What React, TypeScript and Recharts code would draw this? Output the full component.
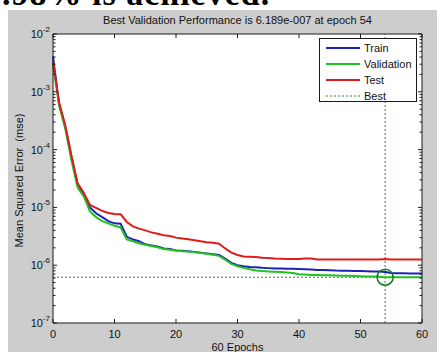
import React from "react";
import {
  CartesianGrid,
  ComposedChart,
  Label,
  Legend,
  Line,
  ReferenceDot,
  ReferenceLine,
  XAxis,
  YAxis,
} from "recharts";

// Training record (mse per epoch).
const epochs = [
  0, 1, 2, 3, 4, 5, 6, 7, 8, 9, 10, 11, 12, 13, 14, 15, 16, 17, 18, 19, 20,
  21, 22, 23, 24, 25, 26, 27, 28, 29, 30, 31, 32, 33, 34, 35, 36, 37, 38, 39,
  40, 41, 42, 43, 44, 45, 46, 47, 48, 49, 50, 51, 52, 53, 54, 55, 56, 57, 58,
  59, 60,
];

const train = [
  4.1e-3, 6.0e-4, 2.5e-4, 7.5e-5, 2.5e-5, 1.7e-5, 1.0e-5, 7.9e-6, 6.8e-6, 5.8e-6,
  5.3e-6, 5.2e-6, 3.1e-6, 2.8e-6, 2.6e-6, 2.3e-6, 2.2e-6, 2.1e-6, 1.95e-6, 1.9e-6,
  1.8e-6, 1.78e-6, 1.75e-6, 1.7e-6, 1.65e-6, 1.6e-6, 1.55e-6, 1.5e-6, 1.3e-6, 1.1e-6,
  1.0e-6, 9.6e-7, 9.3e-7, 9.2e-7, 9.0e-7, 8.9e-7, 8.8e-7, 8.75e-7, 8.7e-7, 8.65e-7,
  8.6e-7, 8.5e-7, 8.4e-7, 8.3e-7, 8.25e-7, 8.2e-7, 8.1e-7, 8.05e-7, 8.0e-7, 7.95e-7,
  7.9e-7, 7.85e-7, 7.8e-7, 7.8e-7, 7.6e-7, 7.3e-7, 7.25e-7, 7.25e-7, 7.2e-7, 7.2e-7,
  7.2e-7,
];

const validation = [
  3.0e-3, 5.7e-4, 2.3e-4, 6.5e-5, 2.2e-5, 1.55e-5, 8.5e-6, 6.8e-6, 5.8e-6, 5.3e-6,
  4.8e-6, 4.5e-6, 2.8e-6, 2.6e-6, 2.4e-6, 2.25e-6, 2.15e-6, 2.05e-6, 1.9e-6, 1.85e-6,
  1.8e-6, 1.75e-6, 1.72e-6, 1.68e-6, 1.62e-6, 1.58e-6, 1.52e-6, 1.45e-6, 1.25e-6, 1.05e-6,
  9.6e-7, 9.0e-7, 8.5e-7, 8.1e-7, 7.9e-7, 7.8e-7, 7.7e-7, 7.6e-7, 7.5e-7, 7.3e-7,
  7.0e-7, 6.9e-7, 6.8e-7, 6.75e-7, 6.7e-7, 6.7e-7, 6.65e-7, 6.6e-7, 6.55e-7, 6.5e-7,
  6.45e-7, 6.4e-7, 6.35e-7, 6.3e-7, 6.189e-7, 6.2e-7, 6.2e-7, 6.2e-7, 6.2e-7, 6.2e-7,
  6.2e-7,
];

const test = [
  3.3e-3, 6.5e-4, 2.6e-4, 7.8e-5, 2.6e-5, 1.8e-5, 1.1e-5, 9.8e-6, 8.7e-6, 8.0e-6,
  7.7e-6, 7.6e-6, 5.6e-6, 4.7e-6, 4.3e-6, 4.0e-6, 3.7e-6, 3.5e-6, 3.3e-6, 3.2e-6,
  3.0e-6, 2.9e-6, 2.8e-6, 2.7e-6, 2.6e-6, 2.5e-6, 2.45e-6, 2.35e-6, 1.95e-6, 1.65e-6,
  1.5e-6, 1.42e-6, 1.4e-6, 1.38e-6, 1.35e-6, 1.33e-6, 1.3e-6, 1.29e-6, 1.28e-6, 1.28e-6,
  1.28e-6, 1.3e-6, 1.3e-6, 1.25e-6, 1.25e-6, 1.25e-6, 1.25e-6, 1.25e-6, 1.25e-6, 1.25e-6,
  1.25e-6, 1.25e-6, 1.25e-6, 1.26e-6, 1.28e-6, 1.25e-6, 1.25e-6, 1.25e-6, 1.25e-6, 1.26e-6,
  1.26e-6,
];

const bestEpoch = 54;
const bestValue = 6.189e-7;

const seriesNames = ["Train", "Validation", "Test"];
const xTicks = [0, 10, 20, 30, 40, 50, 60];
const decades = [1e-7, 1e-6, 1e-5, 1e-4, 1e-3, 1e-2];
const minorSteps = [2, 3, 4, 5, 6, 7, 8, 9];

const TITLE = "Best Validation Performance is 6.189e-007 at epoch 54";
const X_LABEL = "60 Epochs";
const Y_LABEL = "Mean Squared Error  (mse)";

const TRAIN = "#1f22b4";
const VALID = "#1fc21f";
const TEST = "#e01b1b";
const BEST = "#3f7f3f";
const CIRCLE = "#137a26";
const AXIS = "#1a1a1a";
const FIGURE = "#cdcdcd";
const FONT = "'Liberation Sans', Arial, sans-serif";

const rows = epochs.map((epoch, i) => ({
  epoch,
  train: train[i],
  validation: validation[i],
  test: test[i],
}));

// log axis: a tick at every decade plus 2..9 minor ticks in between
const yTicks = [
  ...decades,
  ...decades.slice(0, -1).flatMap((d) => minorSteps.map((m) => d * m)),
].sort((a, b) => a - b);

function isDecade(v: number) {
  const l = Math.log10(v);
  return Math.abs(l - Math.round(l)) < 1e-6;
}

// MATLAB draws its ticks inside the box, so every axis gets its own tick
function LeftTick({ x, y, payload }: any) {
  const major = isDecade(payload.value);
  return (
    <g>
      <line x1={x} x2={x + (major ? 4 : 2.5)} y1={y} y2={y} stroke={AXIS} />
      {major && (
        <text
          x={x - 3}
          y={y}
          dy={4}
          textAnchor="end"
          fontSize={11}
          fontFamily={FONT}
          fill="#111"
        >
          10
          <tspan dy={-6} fontSize={8}>
            {Math.round(Math.log10(payload.value))}
          </tspan>
        </text>
      )}
    </g>
  );
}

function RightTick({ x, y, payload }: any) {
  const major = isDecade(payload.value);
  return (
    <line x1={x} x2={x - (major ? 4 : 2.5)} y1={y} y2={y} stroke={AXIS} />
  );
}

function BottomTick({ x, y, payload }: any) {
  return (
    <g>
      <line x1={x} x2={x} y1={y} y2={y - 4} stroke={AXIS} />
      <text
        x={x}
        y={y + 15}
        textAnchor="middle"
        fontSize={11}
        fontFamily={FONT}
        fill="#111"
      >
        {payload.value}
      </text>
    </g>
  );
}

function TopTick({ x, y }: any) {
  return <line x1={x} x2={x} y1={y} y2={y + 4} stroke={AXIS} />;
}

function LegendBox({ payload }: any) {
  // recharts sorts the payload by name; keep MATLAB's plotting order instead
  const series = seriesNames
    .map((name) => (payload ?? []).find((p: any) => p.value === name))
    .filter(Boolean)
    .map((p: any) => ({ name: p.value, color: p.color, dash: undefined }));
  const items = [...series, { name: "Best", color: BEST, dash: "2 2" }];
  return (
    <div
      style={{
        width: 98,
        height: 64,
        boxSizing: "border-box",
        background: "#fff",
        border: `1px solid ${AXIS}`,
        paddingTop: 1,
        fontFamily: FONT,
        fontSize: 11,
        color: "#111",
      }}
    >
      {items.map((item: any) => (
        <div
          key={item.name}
          style={{ display: "flex", alignItems: "center", height: 16 }}
        >
          <svg width={41} height={16} style={{ display: "block" }}>
            <line
              x1={6}
              x2={40}
              y1={8}
              y2={8}
              stroke={item.color}
              strokeWidth={item.dash ? 1 : 2}
              strokeDasharray={item.dash}
            />
          </svg>
          <span style={{ marginLeft: 3 }}>{item.name}</span>
        </div>
      ))}
    </div>
  );
}

export default function App() {
  return (
    <div
      style={{
        position: "absolute",
        left: 0,
        top: 0,
        width: 437,
        height: 352,
        overflow: "hidden",
        background: "#fff",
      }}
    >
      {/* tail of the paper's sentence above the figure, cut off by the crop */}
      <div
        style={{
          position: "absolute",
          left: -34,
          top: -23,
          fontFamily: "'Liberation Serif', 'Times New Roman', serif",
          fontWeight: "bold",
          fontSize: 34,
          lineHeight: "34px",
          letterSpacing: 1,
          whiteSpace: "nowrap",
          color: "#000",
        }}
      >
        99.98% is achieved.
      </div>
      <div
        style={{
          position: "absolute",
          left: 8,
          top: 10,
          width: 429,
          height: 342,
          background: FIGURE,
        }}
      />
      <div style={{ position: "absolute", left: 0, top: 0 }}>
        <ComposedChart
          width={437}
          height={352}
          data={rows}
          margin={{ top: 0, right: 0, bottom: 0, left: 0 }}
        >
          <CartesianGrid horizontal={false} vertical={false} fill="#fff" />
          <XAxis
            dataKey="epoch"
            type="number"
            domain={[0, 60]}
            ticks={xTicks}
            interval={0}
            height={29}
            tickSize={0}
            tickMargin={0}
            tickLine={false}
            axisLine={{ stroke: AXIS }}
            tick={<BottomTick />}
          >
            <Label
              content={({ viewBox }: any) => (
                <text
                  x={viewBox.x + viewBox.width / 2}
                  y={351}
                  textAnchor="middle"
                  fontSize={11}
                  fontFamily={FONT}
                  fill="#111"
                >
                  {X_LABEL}
                </text>
              )}
            />
          </XAxis>
          <XAxis
            xAxisId="top"
            orientation="top"
            type="number"
            domain={[0, 60]}
            allowDataOverflow
            ticks={xTicks}
            interval={0}
            height={34}
            tickSize={0}
            tickMargin={0}
            tickLine={false}
            axisLine={{ stroke: AXIS }}
            tick={<TopTick />}
          >
            <Label
              content={({ viewBox }: any) => (
                <text
                  x={viewBox.x + viewBox.width / 2}
                  y={24}
                  textAnchor="middle"
                  fontSize={11}
                  fontFamily={FONT}
                  fill="#111"
                >
                  {TITLE}
                </text>
              )}
            />
          </XAxis>
          <YAxis
            scale="log"
            type="number"
            domain={[1e-7, 1e-2]}
            allowDataOverflow
            ticks={yTicks}
            interval={0}
            width={53}
            tickSize={0}
            tickMargin={0}
            tickLine={false}
            axisLine={{ stroke: AXIS }}
            tick={<LeftTick />}
          >
            <Label
              content={({ viewBox }: any) => {
                const cx = 23;
                const cy = viewBox.y + viewBox.height / 2 + 2;
                return (
                  <text
                    x={cx}
                    y={cy}
                    transform={`rotate(-90 ${cx} ${cy})`}
                    textAnchor="middle"
                    fontSize={11}
                    fontFamily={FONT}
                    fill="#111"
                    style={{ whiteSpace: "pre" }}
                  >
                    {Y_LABEL}
                  </text>
                );
              }}
            />
          </YAxis>
          <YAxis
            yAxisId="right"
            orientation="right"
            scale="log"
            type="number"
            domain={[1e-7, 1e-2]}
            allowDataOverflow
            ticks={yTicks}
            interval={0}
            width={15}
            tickSize={0}
            tickMargin={0}
            tickLine={false}
            axisLine={{ stroke: AXIS }}
            tick={<RightTick />}
          />
          <ReferenceLine
            y={bestValue}
            stroke={BEST}
            strokeDasharray="2 2"
            strokeWidth={1}
          />
          <ReferenceLine
            x={bestEpoch}
            stroke={BEST}
            strokeDasharray="2 2"
            strokeWidth={1}
          />
          <Line
            dataKey="train"
            name="Train"
            stroke={TRAIN}
            strokeWidth={2}
            dot={false}
            isAnimationActive={false}
          />
          <Line
            dataKey="validation"
            name="Validation"
            stroke={VALID}
            strokeWidth={2}
            dot={false}
            isAnimationActive={false}
          />
          <Line
            dataKey="test"
            name="Test"
            stroke={TEST}
            strokeWidth={2}
            dot={false}
            isAnimationActive={false}
          />
          <ReferenceDot
            x={bestEpoch}
            y={bestValue}
            r={8}
            fill="none"
            stroke={CIRCLE}
            strokeWidth={1.5}
          />
          <Legend
            layout="horizontal"
            verticalAlign="middle"
            align="center"
            content={<LegendBox />}
            wrapperStyle={{ left: 319, top: 38, width: 98, height: 64 }}
          />
        </ComposedChart>
      </div>
    </div>
  );
}
